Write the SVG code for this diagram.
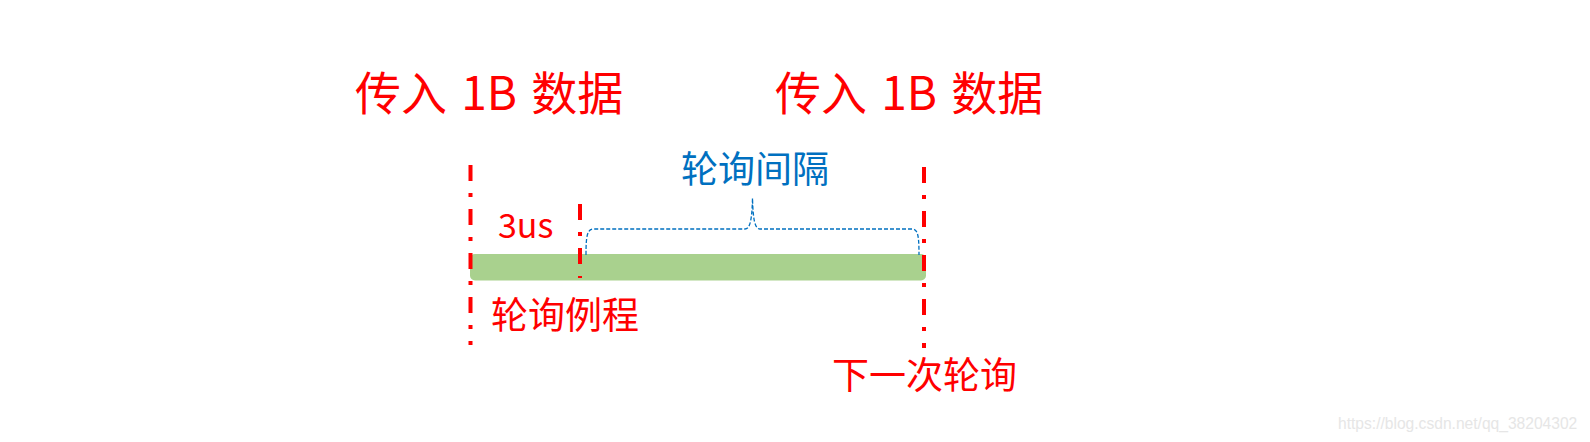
<svg xmlns="http://www.w3.org/2000/svg" width="1590" height="442" viewBox="0 0 1590 442">
<style>
.red{fill:#FF0000;font-family:"Microsoft YaHei","Noto Sans CJK SC",sans-serif}
.title{font-size:46px;word-spacing:4px}
.lbl{font-size:37px}
.blue{fill:#0070C0;font-family:"Noto Sans CJK SC",sans-serif;font-size:37px}
.vline{stroke:#FF0000;stroke-width:4;stroke-dasharray:16 12 4 12;fill:none}
.brace{stroke:#0070C0;stroke-width:1.3;stroke-dasharray:4 2;fill:none}
</style>
<rect width="1590" height="442" fill="#FFFFFF"/>
<g id="bar">
<rect x="470" y="254" width="456" height="26.5" rx="5" fill="#A9D18E"/>
</g>
<g id="brace">
<path class="brace" d="M586,255 C586,236 587,229 594,229 L745,229 C750,229 752,220 752.5,198 C753,220 755,229 760,229 L912,229 C918,229 919,236 919,255"/>
</g>
<g id="connectors">
<line class="vline" x1="470.5" y1="165" x2="470.5" y2="345"/>
<line class="vline" x1="580" y1="204" x2="580" y2="278"/>
<line class="vline" x1="924" y1="167" x2="924" y2="348"/>
</g>
<g id="title1"><text class="red title" x="355" y="110">传入 1B 数据</text></g>
<g id="title2"><text class="red title" x="775" y="110">传入 1B 数据</text></g>
<g id="interval"><text class="blue" x="681" y="183">轮询间隔</text></g>
<g id="t3us"><text class="red" style="font-size:34px" x="498" y="238">3us</text></g>
<g id="routine"><text class="red lbl" x="491" y="329">轮询例程</text></g>
<g id="next"><text class="red lbl" x="832" y="389">下一次轮询</text></g>
<g id="watermark"><text x="1338" y="429" style="font-family:'Liberation Sans',Arial,sans-serif;font-size:15.6px;fill:#E6E6E6">https://blog.csdn.net/qq_38204302</text></g>
</svg>
